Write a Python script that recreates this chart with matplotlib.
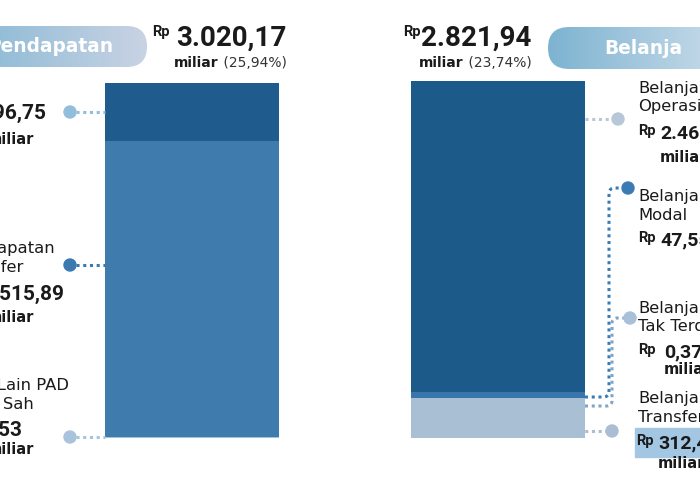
import numpy as np
import matplotlib
matplotlib.use("Agg")
import matplotlib.pyplot as plt
from matplotlib.patches import FancyBboxPatch, Rectangle
from matplotlib.colors import LinearSegmentedColormap

# ---------------- data ----------------
pend_title = "Pendapatan"
pend_total = 3020.17
pend_pct = "25,94%"
pend_labels = ["PAD", "Pendapatan\nTransfer", "Lain-Lain PAD\nyang Sah"]
pend_values = [496.75, 2515.89, 7.53]

bel_title = "Belanja"
bel_total = 2821.94
bel_pct = "23,74%"
bel_labels = ["Belanja\nOperasi", "Belanja\nModal", "Belanja\nTak Terduga", "Belanja\nTransfer"]
bel_values = [2461.56, 47.55, 0.37, 312.46]

# ---------------- style ----------------
pend_colors = ["#1f5b8c", "#3f7cad", "#a3c2dd"]
pend_dot_colors = ["#93bedb", "#3b7ab0", "#a8c4dc"]
bel_colors = ["#1c5a8a", "#3876ab", "#3876ab", "#a9bfd3"]
bel_dot_colors = ["#b7c7d8", "#3b7bb3", "#a9c1d8", "#a9bed2"]
DARK = "#1a1a1a"
WORD = "DejaVu Sans"
NUM = "Roboto"


def fmt(v):
    s = f"{v:,.2f}"
    return s.replace(",", "X").replace(".", ",").replace("X", ".")


fig = plt.figure(figsize=(7, 5), dpi=100)
fig.patch.set_facecolor("white")

# ---- stacked bars (each in its own axes, scaled to its total) ----
axL = fig.add_axes([105 / 700, 1 - 438 / 500, 174 / 700, 355 / 500])
bottom = 0.0
for v, c in zip(pend_values[::-1], pend_colors[::-1]):
    axL.bar(0, v, bottom=bottom, width=1.0, color=c, linewidth=0)
    bottom += v
axL.set_xlim(-0.5, 0.5)
axL.set_ylim(0, pend_total)
axL.axis("off")

axR = fig.add_axes([411 / 700, 1 - 438 / 500, 174 / 700, 357 / 500])
bottom = 0.0
for v, c in zip(bel_values[::-1], bel_colors[::-1]):
    axR.bar(0, v, bottom=bottom, width=1.0, color=c, linewidth=0)
    bottom += v
axR.set_xlim(-0.5, 0.5)
axR.set_ylim(0, bel_total)
axR.axis("off")

# ---- overlay in pixel coordinates ----
ov = fig.add_axes([0, 0, 1, 1])
ov.set_facecolor("none")
ov.axis("off")


def pill(x0, y0, x1, y1, c0, c1):
    r = (y1 - y0) / 2
    p = FancyBboxPatch((x0, y0), x1 - x0, y1 - y0,
                       boxstyle=f"round,pad=0,rounding_size={r}",
                       fc="none", ec="none")
    ov.add_patch(p)
    grad = np.linspace(0, 1, 256).reshape(1, -1)
    cmap = LinearSegmentedColormap.from_list("g", [c0, c1])
    im = ov.imshow(grad, extent=(x0, x1, y1, y0), cmap=cmap, aspect="auto", zorder=1)
    im.set_clip_path(p)


pill(-40, 26, 147, 67, "#86b8d5", "#c9d3e3")
pill(548, 27, 740, 69, "#7db3d1", "#cfdfec")
ov.text(50, 47, pend_title, color="white", fontsize=13.4, fontweight="bold",
        family=WORD, ha="center", va="center", zorder=3)
ov.text(643, 48, bel_title, color="white", fontsize=13.4, fontweight="bold",
        family=WORD, ha="center", va="center", zorder=3)


def total(xrp, xnum, y, value, pct):
    ov.text(xrp, y - 6, "Rp", fontsize=10.5, fontweight="bold", family=NUM,
            color=DARK, ha="left", va="center")
    ov.text(xnum, y, fmt(value), fontsize=20, fontweight="bold", family=NUM,
            color=DARK, ha="left", va="center")
    t = ov.text(xnum - 2, y + 25, "miliar", fontsize=10, fontweight="bold",
                family=WORD, color=DARK, ha="left", va="center")
    ov.annotate(f" ({pct})", xycoords=t, xy=(1, 0.5), va="center", ha="left",
                fontsize=10, family=WORD, color="#333333")


total(152, 176, 38, pend_total, pend_pct)
total(403, 421, 38, bel_total, bel_pct)


def dotted(xs, ys, color, lw=2.2):
    ov.plot(xs, ys, color=color, lw=lw, linestyle=(0, (1, 1.2)),
            solid_capstyle="butt", zorder=4)


def dot(x, y, color, r=6):
    ov.add_patch(plt.Circle((x, y), r, color=color, zorder=5))


# ---- left side labels ----
L_dot_y = [112, 265, 437]
L_name_y = [88, 249, 385]
L_num_y = [113, 294, 430]
L_mil_y = [139, 318, 450]
for i in range(3):
    dotted([76, 105], [L_dot_y[i]] * 2, pend_dot_colors[i])
    dot(70, L_dot_y[i], pend_dot_colors[i])
    lines = pend_labels[i].split("\n")
    for k, ln in enumerate(lines):
        ov.text(-43, L_name_y[i] + k * 19, ln, fontsize=11.8, family=WORD,
                color=DARK, ha="left", va="center")
    ov.text(-42, L_num_y[i] - 3, "Rp", fontsize=10.5, fontweight="bold", family=NUM,
            color=DARK, ha="left", va="center")
    ov.text(-19, L_num_y[i], fmt(pend_values[i]), fontsize=15, fontweight="bold",
            family=NUM, color=DARK, ha="left", va="center")
    ov.text(34, L_mil_y[i], "miliar", fontsize=10.5, fontweight="bold",
            family=WORD, color=DARK, ha="right", va="center")

# ---- right side labels ----
R_name_y = [88, 196, 308, 398]
R_num_y = [133, 240, 352, 443]
R_mil_y = [157, None, 370, 464]
R_rp_x = [638, 638, 638, 636]
R_num_x = [660, 660, 664, 658]

# number highlight box for transfer
ov.add_patch(Rectangle((635, 428), 80, 29, color="#a3c6e3", zorder=2))

for i in range(4):
    lines = bel_labels[i].split("\n")
    for k, ln in enumerate(lines):
        ov.text(638, R_name_y[i] + k * 19, ln, fontsize=11.8, family=WORD,
                color=DARK, ha="left", va="center", zorder=3)
    ov.text(R_rp_x[i], R_num_y[i] - 2, "Rp", fontsize=10.5, fontweight="bold",
            family=NUM, color=DARK, ha="left", va="center", zorder=3)
    ov.text(R_num_x[i], R_num_y[i], fmt(bel_values[i]), fontsize=14,
            fontweight="bold", family=NUM, color=DARK, ha="left", va="center",
            zorder=3)
    if R_mil_y[i] is not None:
        ov.text(R_num_x[i], R_mil_y[i], "miliar", fontsize=10.5, fontweight="bold",
                family=WORD, color=DARK, ha="left", va="center", zorder=3)

# connectors right
dotted([585, 612], [119, 119], bel_dot_colors[0])
dot(618, 119, bel_dot_colors[0])


def route(y0, xv, yd, xd, color):
    r = 5
    a1 = np.linspace(-np.pi / 2, 0, 8)
    xs = [585, xv - r] + list(xv - r + r * np.cos(a1))
    ys = [y0, y0] + list(y0 - r - r * np.sin(a1))
    a2 = np.linspace(np.pi, np.pi / 2, 8)
    xs += list(xv + r + r * np.cos(a2)) + [xd]
    ys += list(yd + r - r * np.sin(a2)) + [yd]
    dotted(xs, ys, color)


route(397, 609, 188, 622, bel_dot_colors[1])
dot(628, 188, bel_dot_colors[1])
route(406, 612, 318, 624, "#7fa6c8")
dot(630, 318, bel_dot_colors[2])
dotted([578, 606], [431, 431], bel_dot_colors[3])
dot(612, 431, bel_dot_colors[3])

ov.set_xlim(0, 700)
ov.set_ylim(500, 0)

fig.savefig("out.png", dpi=100, facecolor="white")
